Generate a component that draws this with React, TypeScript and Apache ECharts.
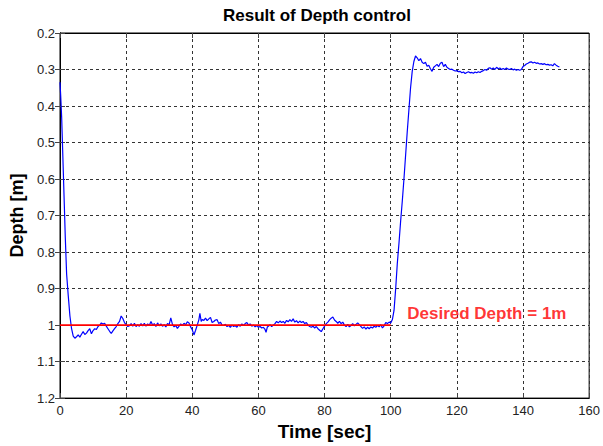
import React, { useEffect, useRef } from "react";
import * as echarts from "echarts";

const chartTitle = "Result of Depth control";
const xAxisName = "Time [sec]";
const yAxisName = "Depth [m]";
const annotationText = "Desired Depth = 1m";

// [time (sec), depth (m)]
const depthTrace: [number, number][] = [
  [0, 0.335], [0.2, 0.37], [0.5, 0.43], [0.8, 0.52], [1.0, 0.58], [1.3, 0.67], [1.6, 0.76],
  [2.0, 0.86], [2.5, 0.92], [3.0, 0.975], [3.5, 1.01], [4.0, 1.03], [4.5, 1.036],
  [5.0, 1.032], [5.5, 1.027], [6.0, 1.033], [6.5, 1.025], [7.0, 1.018], [7.5, 1.026], [8.0, 1.022],
  [8.5, 1.015], [9.0, 1.01], [9.5, 1.024], [10.0, 1.015], [10.5, 1.01], [11.0, 1.012], [11.5, 1.004],
  [12.0, 1.0], [12.5, 0.994], [13.0, 0.997], [13.5, 0.995], [14.0, 1.003], [14.5, 1.01], [15.0, 1.017],
  [15.5, 1.023], [16.0, 1.016], [16.5, 1.01], [17.0, 1.004], [17.5, 0.996], [18.0, 0.99], [18.5, 0.975],
  [19.0, 0.982], [19.5, 0.993], [20.0, 0.999], [20.5, 1.004], [21.0, 1.002], [21.5, 0.996], [22.0, 1.003],
  [22.5, 0.995], [23.0, 1.004], [23.5, 0.999], [24.0, 1.003], [24.5, 0.996], [25.0, 1.002], [25.5, 0.995],
  [26.0, 1.003], [26.5, 0.997], [27.0, 1.001], [27.5, 0.99], [28.0, 1.0], [28.5, 0.996], [29.0, 1.004],
  [29.5, 0.994], [30.0, 1.002], [30.5, 0.997], [31.0, 1.003], [31.5, 0.999], [32.0, 1.005], [32.5, 0.996],
  [33.0, 0.999], [33.5, 0.98], [34.0, 0.998], [34.5, 1.005], [35.0, 1.001], [35.5, 1.009], [36.0, 1.003],
  [36.5, 0.997], [37.0, 1.001], [37.5, 0.995], [38.0, 0.999], [38.5, 0.991], [39.0, 0.994], [39.5, 1.005],
  [40.0, 1.013], [40.5, 1.027], [41.0, 1.014], [41.5, 1.0], [42.0, 0.985], [42.3, 0.968], [42.7, 0.99],
  [43.0, 0.985], [43.5, 0.987], [44.0, 0.981], [44.5, 0.988], [45.0, 0.983], [45.5, 0.979], [46.0, 0.993],
  [46.5, 0.99], [47.0, 0.986], [47.5, 0.985], [48.0, 0.996], [48.5, 0.992], [49.0, 1.0], [49.5, 1.001],
  [50.0, 0.998], [50.5, 1.004], [51.0, 1.001], [51.5, 1.006], [52.0, 1.0], [52.5, 1.004], [53.0, 1.002],
  [53.5, 1.006], [54.0, 0.999], [54.5, 1.003], [55.0, 0.997], [55.5, 1.001], [56.0, 0.996], [56.5, 0.993],
  [57.0, 1.0], [57.5, 0.997], [58.0, 1.003], [58.5, 1.0], [59.0, 1.005], [59.5, 1.001], [60.0, 1.006],
  [60.5, 1.004], [61.0, 1.008], [61.5, 1.006], [62.0, 1.012], [62.3, 1.02], [62.7, 1.005], [63.0, 1.003],
  [63.5, 0.999], [64.0, 1.004], [64.5, 1.0], [65.0, 0.996], [65.5, 0.99], [66.0, 0.994], [66.5, 0.989],
  [67.0, 0.993], [67.5, 0.99], [68.0, 0.995], [68.5, 0.987], [69.0, 0.991], [69.5, 0.985], [70.0, 0.99],
  [70.5, 0.983], [71.0, 0.992], [71.5, 0.988], [72.0, 0.994], [72.5, 0.989], [73.0, 0.993], [73.5, 0.99],
  [74.0, 0.996], [74.5, 0.993], [75.0, 1.0], [75.5, 1.004], [76.0, 1.006], [76.5, 1.003], [77.0, 1.008],
  [77.5, 1.004], [78.0, 1.01], [78.5, 1.014], [79.0, 1.018], [79.5, 1.01], [80.0, 1.003], [80.5, 0.996],
  [81.0, 0.992], [81.5, 0.986], [82.0, 0.981], [82.5, 0.978], [83.0, 0.986], [83.5, 0.99], [84.0, 0.995],
  [84.5, 0.99], [85.0, 0.996], [85.5, 0.992], [86.0, 1.0], [86.5, 1.004], [87.0, 0.998], [87.5, 1.005],
  [88.0, 1.001], [88.5, 0.996], [89.0, 1.002], [89.5, 0.998], [90.0, 0.994], [90.5, 0.999], [91.0, 1.004],
  [91.5, 1.009], [92.0, 1.005], [92.5, 1.011], [93.0, 1.006], [93.5, 1.01], [94.0, 1.005], [94.5, 1.008],
  [95.0, 1.003], [95.5, 1.006], [96.0, 1.001], [96.5, 1.005], [97.0, 0.999], [97.5, 1.008], [98.0, 1.002],
  [98.5, 0.993], [99.0, 0.996], [99.5, 0.992], [100.0, 0.994], [100.5, 0.985], [101.0, 0.96], [101.5, 0.9],
  [102.0, 0.83], [102.5, 0.775], [103.0, 0.715], [103.5, 0.66], [104.0, 0.6], [104.5, 0.535], [105.0, 0.47],
  [105.5, 0.41], [106.0, 0.35], [106.5, 0.305], [107.0, 0.278], [107.5, 0.263], [108.0, 0.268], [108.5, 0.276],
  [109.0, 0.27], [109.5, 0.28], [110.0, 0.284], [110.5, 0.28], [111.0, 0.291], [111.5, 0.288], [112.0, 0.298],
  [112.5, 0.305], [113.0, 0.294], [113.5, 0.29], [114.0, 0.286], [114.5, 0.292], [115.0, 0.283], [115.5, 0.28],
  [116.0, 0.292], [116.5, 0.286], [117.0, 0.294], [117.5, 0.297], [118.0, 0.3], [118.5, 0.299], [119.0, 0.302],
  [119.5, 0.304], [120.0, 0.303], [120.5, 0.306], [121.0, 0.305], [121.5, 0.309], [122.0, 0.307], [122.5, 0.311],
  [123.0, 0.308], [123.5, 0.306], [124.0, 0.309], [124.5, 0.308], [125.0, 0.31], [125.5, 0.307], [126.0, 0.309],
  [126.5, 0.306], [127.0, 0.308], [127.5, 0.305], [128.0, 0.303], [128.5, 0.3], [129.0, 0.302], [129.5, 0.297],
  [130.0, 0.295], [130.5, 0.299], [131.0, 0.296], [131.5, 0.3], [132.0, 0.294], [132.5, 0.298], [133.0, 0.296],
  [133.5, 0.3], [134.0, 0.297], [134.5, 0.3], [135.0, 0.296], [135.5, 0.299], [136.0, 0.3], [136.5, 0.297],
  [137.0, 0.301], [137.5, 0.299], [138.0, 0.302], [138.5, 0.3], [139.0, 0.302], [139.5, 0.3], [140.0, 0.292],
  [140.5, 0.289], [141.0, 0.285], [141.5, 0.283], [142.0, 0.28], [142.5, 0.279], [143.0, 0.282], [143.5, 0.28],
  [144.0, 0.283], [144.5, 0.282], [145.0, 0.285], [145.5, 0.284], [146.0, 0.286], [146.5, 0.284], [147.0, 0.287],
  [147.5, 0.286], [148.0, 0.288], [148.5, 0.287], [149.0, 0.29], [149.5, 0.284], [150.0, 0.288], [150.5, 0.291],
  [151.0, 0.293],
];

const desiredDepthLine: [number, number][] = [[0, 1], [100, 1]];
const annotationPoint: [number, number][] = [[105, 0.968]];

const xTicks = { min: 0, max: 160, interval: 20 };
const yTicks = { min: 0.2, max: 1.2, interval: 0.1 };

const FONT = "'Liberation Sans', Arial, sans-serif";

export default function App() {
  const ref = useRef<HTMLDivElement>(null);
  useEffect(() => {
    if (!ref.current) return;
    const chart = echarts.init(ref.current, undefined, { renderer: "svg" });
    const split = { show: true, lineStyle: { color: "#333", type: [3, 3] as any, width: 1 } };
    const axisLine = { show: true, lineStyle: { color: "#000", width: 1 } };
    const tick = { show: true, inside: true, length: 5, lineStyle: { color: "#444" } };
    chart.setOption({
      animation: false,
      backgroundColor: "#fff",
      title: {
        text: chartTitle,
        left: 312,
        textAlign: "center",
        top: 2,
        textStyle: { fontFamily: FONT, fontSize: 17, fontWeight: "bold", color: "#000" },
      },
      grid: { left: 60, right: 12, top: 33, bottom: 43, show: true, borderColor: "#000", borderWidth: 1 },
      xAxis: [
        {
          type: "value",
          ...xTicks,
          name: xAxisName,
          nameLocation: "middle",
          nameGap: 20,
          nameTextStyle: { fontFamily: FONT, fontSize: 19, fontWeight: "bold", color: "#000" },
          axisLine,
          axisTick: tick,
          splitLine: split,
          axisLabel: { fontFamily: FONT, fontSize: 13, color: "#222", margin: 6 },
        },
        {
          type: "value",
          ...xTicks,
          position: "top",
          axisLine,
          axisTick: tick,
          axisLabel: { show: false },
          splitLine: { show: false },
        },
      ],
      yAxis: [
        {
          type: "value",
          ...yTicks,
          inverse: true,
          name: yAxisName,
          nameLocation: "middle",
          nameGap: 33,
          nameTextStyle: { fontFamily: FONT, fontSize: 18, fontWeight: "bold", color: "#000" },
          axisLine,
          axisTick: tick,
          splitLine: split,
          axisLabel: {
            fontFamily: FONT,
            fontSize: 13,
            color: "#222",
            margin: 5,
            formatter: (v: number) => String(parseFloat(v.toFixed(1))),
          },
        },
        {
          type: "value",
          ...yTicks,
          inverse: true,
          position: "right",
          axisLine,
          axisTick: tick,
          axisLabel: { show: false },
          splitLine: { show: false },
        },
      ],
      series: [
        {
          type: "line",
          data: depthTrace,
          showSymbol: false,
          symbol: "none",
          lineStyle: { color: "#0000ff", width: 1.2 },
        },
        {
          type: "line",
          data: desiredDepthLine,
          showSymbol: false,
          symbol: "none",
          lineStyle: { color: "#ff0000", width: 1.6 },
        },
        {
          type: "scatter",
          data: annotationPoint,
          symbolSize: 0,
          label: {
            show: true,
            position: "right",
            distance: 0,
            formatter: annotationText,
            fontFamily: FONT,
            fontSize: 17,
            fontWeight: "bold",
            color: "#ff0000",
          },
        },
      ],
    });
    return () => chart.dispose();
  }, []);
  return (
    <div
      ref={ref}
      style={{ position: "fixed", left: 0, top: 0, width: 603, height: 446, background: "#fff" }}
    />
  );
}
